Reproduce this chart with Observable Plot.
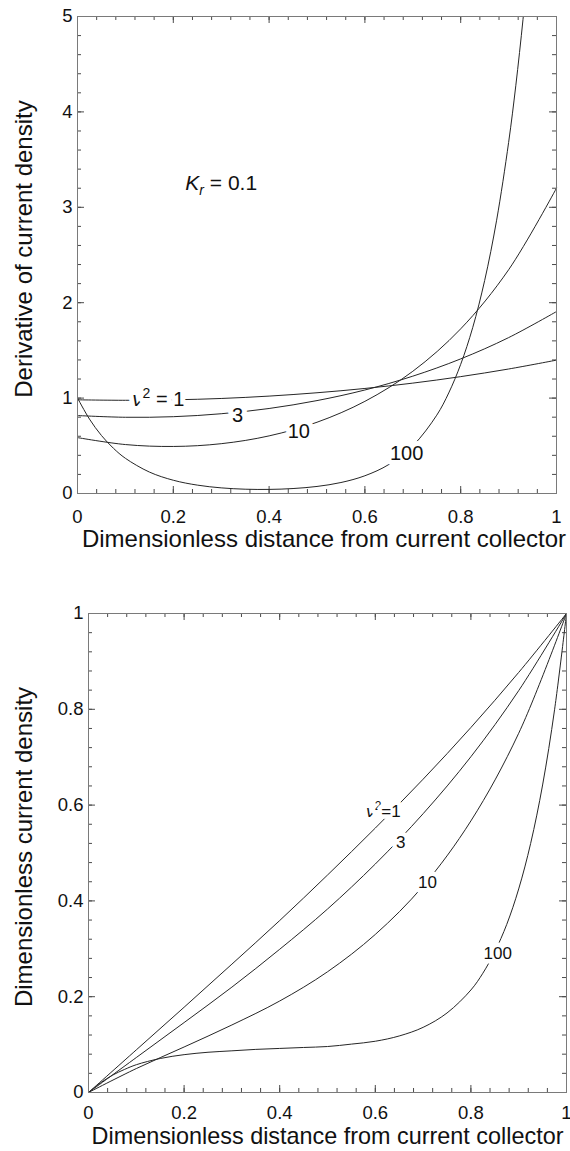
<!DOCTYPE html>
<html>
<head>
<meta charset="utf-8">
<script src="https://cdn.jsdelivr.net/npm/d3@7"></script>
<script src="https://cdn.jsdelivr.net/npm/@observablehq/plot@0.6"></script>
<style>
  html, body { margin: 0; padding: 0; background: #fff; }
  #chart svg { display: block; }
</style>
</head>
<body>
<div id="chart"></div>
<script>
// ---------- tick values ----------
const xMajorTicks = [0, 0.2, 0.4, 0.6, 0.8, 1];
const xMinorTicks = [0,0.04,0.08,0.12,0.16,0.2,0.24,0.28,0.32,0.36,0.4,0.44,0.48,0.52,0.56,0.6,0.64,0.68,0.72,0.76,0.8,0.84,0.88,0.92,0.96,1];
const yTopMajorTicks = [0, 1, 2, 3, 4, 5];
const yTopMinorTicks = [0,0.2,0.4,0.6,0.8,1,1.2,1.4,1.6,1.8,2,2.2,2.4,2.6,2.8,3,3.2,3.4,3.6,3.8,4,4.2,4.4,4.6,4.8,5];
const yBotMajorTicks = [0, 0.2, 0.4, 0.6, 0.8, 1];
const yBotMinorTicks = [0,0.04,0.08,0.12,0.16,0.2,0.24,0.28,0.32,0.36,0.4,0.44,0.48,0.52,0.56,0.6,0.64,0.68,0.72,0.76,0.8,0.84,0.88,0.92,0.96,1];

// ---------- series ----------
const xCoarse = [0, 0.1, 0.2, 0.3, 0.4, 0.5, 0.6, 0.7, 0.8, 0.9, 1];

// top panel: derivative of current density
const deriv_nu1  = [0.982, 0.977, 0.982, 0.996, 1.021, 1.056, 1.101, 1.157, 1.225, 1.305, 1.398];
const deriv_nu3  = [0.817, 0.799, 0.805, 0.836, 0.891, 0.974, 1.085, 1.230, 1.411, 1.634, 1.907];
const deriv_nu10 = [0.586, 0.513, 0.493, 0.522, 0.604, 0.747, 0.966, 1.281, 1.726, 2.345, 3.201];
const xDeriv100  = [0, 0.025, 0.05, 0.075, 0.1, 0.15, 0.2, 0.25, 0.3, 0.35, 0.4, 0.45, 0.5, 0.55, 0.6, 0.65, 0.7, 0.75, 0.775, 0.8, 0.825, 0.85, 0.875, 0.9, 0.915, 0.93, 0.94];
const deriv_nu100 = [1.001, 0.780, 0.608, 0.474, 0.369, 0.225, 0.139, 0.088, 0.059, 0.045, 0.043, 0.052, 0.074, 0.115, 0.186, 0.304, 0.499, 0.821, 1.054, 1.354, 1.738, 2.232, 2.865, 3.679, 4.274, 4.966, 5.489];

// bottom panel: dimensionless current density
const cur_nu1  = [0, 0.089, 0.178, 0.268, 0.359, 0.454, 0.552, 0.654, 0.762, 0.877, 1];
const cur_nu3  = [0, 0.073, 0.146, 0.220, 0.299, 0.383, 0.477, 0.582, 0.701, 0.839, 1];
const cur_nu10 = [0, 0.050, 0.095, 0.141, 0.191, 0.252, 0.330, 0.431, 0.567, 0.750, 1];
const xCur100  = [0, 0.025, 0.05, 0.075, 0.1, 0.15, 0.2, 0.25, 0.3, 0.35, 0.4, 0.45, 0.5, 0.55, 0.6, 0.65, 0.7, 0.75, 0.8, 0.825, 0.85, 0.875, 0.9, 0.925, 0.95, 0.975, 1];
const cur_nu100 = [0, 0.020, 0.036, 0.048, 0.058, 0.071, 0.079, 0.084, 0.087, 0.090, 0.092, 0.094, 0.096, 0.101, 0.107, 0.118, 0.136, 0.166, 0.214, 0.249, 0.294, 0.351, 0.425, 0.520, 0.642, 0.799, 1];

// curve labels
const topLabelText = ["NU1", "3", "10", "100"];
const topLabelX    = [0.169, 0.334, 0.462, 0.687];
const topLabelY    = [0.985, 0.815, 0.645, 0.415];
const botLabelText = ["NUB1", "3", "10", "100"];
const botLabelX    = [0.617, 0.653, 0.709, 0.856];
const botLabelY    = [0.586, 0.522, 0.438, 0.290];
const paramText = "KR";
const paramX = 0.30, paramY = 3.25;

const xTitle = "Dimensionless distance from current collector";
const yTopTitle = "Derivative of current density";
const yBotTitle = "Dimensionless current density";

// ---------- helpers ----------
const gray = "#7a7a7a";
const tickInk = "#4a4a4a";
const ink = "#262626";
const font = "'Liberation Sans', Arial, Helvetica, sans-serif";
const fmt = d => String(d);

const toRows = (xs, ys) => xs.map((x, i) => ({x, y: ys[i]}));
const labelRows = (t, xs, ys) => t.map((s, i) => ({t: s, x: xs[i], y: ys[i]}));

// inward ticks on all four sides; lengths are given as fractions of each axis span
function boxTicks(xDom, yDom, xMaj, xMin, yMaj, yMin) {
  const [x0, x1] = xDom, [y0, y1] = yDom;
  const sx = (x1 - x0) / 479, sy = (y1 - y0) / 478;   // data units per pixel
  const o = {stroke: tickInk, strokeWidth: 1};
  const rx = (ticks, len) => [
    Plot.ruleX(ticks, {...o, x: d => d, y1: y0, y2: y0 + len * sy}),
    Plot.ruleX(ticks, {...o, x: d => d, y1: y1, y2: y1 - len * sy})
  ];
  const ry = (ticks, len) => [
    Plot.ruleY(ticks, {...o, y: d => d, x1: x0, x2: x0 + len * sx}),
    Plot.ruleY(ticks, {...o, y: d => d, x1: x1, x2: x1 - len * sx})
  ];
  return [...rx(xMin, 4), ...rx(xMaj, 7), ...ry(yMin, 4), ...ry(yMaj, 7)];
}

function svgEl(name) { return document.createElementNS("http://www.w3.org/2000/svg", name); }
function rich(svg, raw, parts) {
  svg.querySelectorAll("text").forEach(t => {
    if (t.textContent !== raw) return;
    t.textContent = "";
    for (const p of parts) {
      const s = svgEl("tspan");
      s.textContent = p.t;
      if (p.italic) s.setAttribute("font-style", "italic");
      if (p.dy != null) s.setAttribute("dy", p.dy);
      if (p.size) s.setAttribute("font-size", p.size);
      t.appendChild(s);
    }
  });
}

// ---------- top panel ----------
const topChart = Plot.plot({
  width: 570, height: 575,
  marginTop: 16, marginBottom: 82, marginLeft: 77, marginRight: 14,
  style: {fontFamily: font, color: "#111", background: "#fff"},
  x: {domain: [0, 1]},
  y: {domain: [0, 5]},
  marks: [
    ...boxTicks([0, 1], [0, 5], xMajorTicks, xMinorTicks, yTopMajorTicks, yTopMinorTicks),
    Plot.axisX(xMajorTicks, {anchor: "bottom", tickSize: 0, tickPadding: 16, fontSize: 18.5, tickFormat: fmt, label: null}),
    Plot.axisY(yTopMajorTicks, {anchor: "left", tickSize: 0, tickPadding: 5, fontSize: 18.5, tickFormat: fmt, label: null}),
    Plot.line(toRows(xCoarse, deriv_nu1), {x: "x", y: "y", curve: "catmull-rom", stroke: ink, strokeWidth: 1}),
    Plot.line(toRows(xCoarse, deriv_nu3), {x: "x", y: "y", curve: "catmull-rom", stroke: ink, strokeWidth: 1}),
    Plot.line(toRows(xCoarse, deriv_nu10), {x: "x", y: "y", curve: "catmull-rom", stroke: ink, strokeWidth: 1}),
    Plot.line(toRows(xDeriv100, deriv_nu100), {x: "x", y: "y", curve: "catmull-rom", stroke: ink, strokeWidth: 1, clip: true}),
    Plot.text(labelRows(topLabelText, topLabelX, topLabelY), {x: "x", y: "y", text: "t", fontSize: 20, fill: "#111", stroke: "white", strokeWidth: 10, strokeLinejoin: "round"}),
    Plot.text([paramText], {x: () => paramX, y: () => paramY, text: d => d, fontSize: 21, fill: "#111"}),
    Plot.text([xTitle], {text: d => d, frameAnchor: "bottom", lineAnchor: "middle", textAnchor: "middle", dy: 46, dx: 7, fontSize: 24, fill: "#111"}),
    Plot.text([yTopTitle], {text: d => d, frameAnchor: "left", lineAnchor: "middle", textAnchor: "middle", rotate: -90, dx: -53, dy: -6, fontSize: 24, fill: "#111"}),
    Plot.frame({stroke: gray, strokeWidth: 1})
  ]
});

// ---------- bottom panel ----------
const bottomChart = Plot.plot({
  width: 570, height: 576,
  marginTop: 38, marginBottom: 59, marginLeft: 88, marginRight: 4,
  style: {fontFamily: font, color: "#111", background: "#fff"},
  x: {domain: [0, 1]},
  y: {domain: [0, 1]},
  marks: [
    ...boxTicks([0, 1], [0, 1], xMajorTicks, xMinorTicks, yBotMajorTicks, yBotMinorTicks),
    Plot.axisX(xMajorTicks, {anchor: "bottom", tickSize: 0, tickPadding: 13, fontSize: 18.5, tickFormat: fmt, label: null}),
    Plot.axisY(yBotMajorTicks, {anchor: "left", tickSize: 0, tickPadding: 5, fontSize: 18.5, tickFormat: fmt, label: null}),
    Plot.line(toRows(xCoarse, cur_nu1), {x: "x", y: "y", curve: "catmull-rom", stroke: ink, strokeWidth: 1}),
    Plot.line(toRows(xCoarse, cur_nu3), {x: "x", y: "y", curve: "catmull-rom", stroke: ink, strokeWidth: 1}),
    Plot.line(toRows(xCoarse, cur_nu10), {x: "x", y: "y", curve: "catmull-rom", stroke: ink, strokeWidth: 1}),
    Plot.line(toRows(xCur100, cur_nu100), {x: "x", y: "y", curve: "catmull-rom", stroke: ink, strokeWidth: 1}),
    Plot.text(labelRows(botLabelText, botLabelX, botLabelY), {x: "x", y: "y", text: "t", fontSize: 17, fill: "#111", stroke: "white", strokeWidth: 9, strokeLinejoin: "round"}),
    Plot.text([xTitle], {text: d => d, frameAnchor: "bottom", lineAnchor: "middle", textAnchor: "middle", dy: 44, fontSize: 23.4, fill: "#111"}),
    Plot.text([yBotTitle], {text: d => d, frameAnchor: "left", lineAnchor: "middle", textAnchor: "middle", rotate: -90, dx: -64, dy: -6, fontSize: 24, fill: "#111"}),
    Plot.frame({stroke: gray, strokeWidth: 1})
  ]
});

rich(topChart, "NU1", [{t: "ν", italic: true}, {t: "2", dy: -8, size: 14}, {t: " = 1", dy: 8}]);
rich(topChart, "KR", [{t: "K", italic: true}, {t: "r", italic: true, dy: 5, size: 14}, {t: " = 0.1", dy: -5}]);
rich(bottomChart, "NUB1", [{t: "ν", italic: true}, {t: "2", dy: -7, size: 12}, {t: "=1", dy: 7}]);

document.getElementById("chart").append(topChart, bottomChart);
</script>
</body>
</html>
